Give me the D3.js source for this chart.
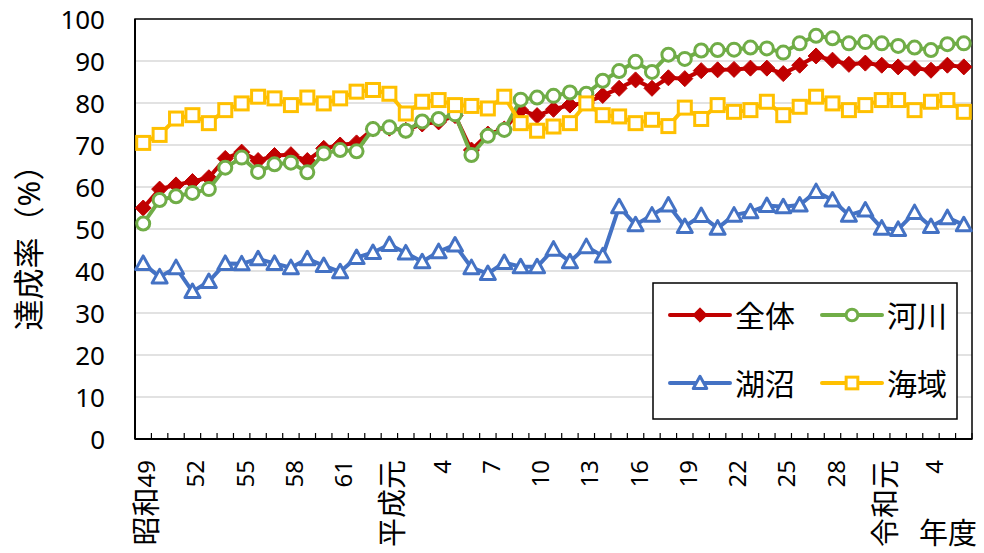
<!DOCTYPE html>
<html><head><meta charset="utf-8">
<script src="https://cdn.jsdelivr.net/npm/d3@7"></script>
<style>body{margin:0;background:#fff}svg{display:block}</style>
</head><body>
<svg id="c" width="984" height="553"></svg>
<script>
const categories = ["昭和49","50","51","52","53","54","55","56","57","58","59","60","61","62","63",
  "平成元","2","3","4","5","6","7","8","9","10","11","12","13","14","15","16","17","18","19","20",
  "21","22","23","24","25","26","27","28","29","30","令和元","2","3","4","5","6"];
const zentai = [55.0,59.5,60.5,61.3,62.2,66.8,68.3,66.3,67.5,67.7,66.3,69.2,70.0,70.5,73.8,
  74.0,73.5,75.0,75.5,77.0,68.8,72.6,73.8,78.3,77.0,78.5,79.5,80.0,81.8,83.5,85.5,83.5,86.0,85.8,
  87.7,87.9,88.0,88.3,88.3,87.0,89.0,91.2,90.2,89.2,89.5,89.0,88.6,88.3,87.8,89.0,88.6];
const kasen = [51.3,56.9,57.8,58.6,59.5,64.6,67.0,63.6,65.4,65.8,63.5,68.0,68.8,68.5,73.8,
  74.2,73.4,75.6,76.2,77.3,67.6,72.2,73.6,80.8,81.3,81.7,82.5,82.2,85.3,87.6,89.8,87.4,91.5,90.5,
  92.5,92.6,92.7,93.2,93.0,92.0,94.2,96.0,95.4,94.2,94.5,94.2,93.6,93.2,92.6,94.0,94.2];
const koshou = [41.8,38.6,40.8,35.1,37.5,41.8,41.7,42.9,41.8,40.8,42.9,41.3,39.8,43.2,44.4,
  46.3,44.3,42.2,44.6,46.2,40.8,39.4,42.0,41.0,41.0,45.2,42.2,45.8,43.6,55.3,51.0,53.3,55.7,50.6,
  53.2,50.2,53.3,54.1,55.6,55.3,55.7,58.9,56.9,53.3,54.5,50.2,49.9,53.9,50.6,52.7,51.0];
const kaiiki = [70.5,72.4,76.3,77.1,75.2,78.3,79.9,81.5,81.1,79.5,81.3,79.9,81.1,82.7,83.1,
  82.2,77.5,80.3,80.7,79.5,79.3,78.7,81.5,75.2,73.4,74.4,75.2,79.9,77.1,76.8,75.2,76.0,74.5,78.9,
  76.2,79.5,77.9,78.3,80.3,77.1,79.1,81.5,79.9,78.3,79.5,80.7,80.7,78.3,80.3,80.7,77.9];
const seriesNames = ["全体","河川","湖沼","海域"];
const seriesColors = ["#C00000","#70AD47","#4472C4","#FFC000"];
const seriesMarkers = ["diamond","circle","triangle","square"];
const yTicks = [0,10,20,30,40,50,60,70,80,90,100];
const yTitle = "達成率（%）";
const xTitle = "年度";

const seriesData = [zentai, kasen, koshou, kaiiki];
const svg = d3.select("#c");
const L=135,R=972,T=19,B=439;
const idx = d3.range(categories.length);
const x = d3.scaleBand().domain(idx).range([L,R]).paddingInner(0).paddingOuter(0);
const y = d3.scaleLinear().domain([0,100]).range([B,T]);
const cx = i => x(i) + x.bandwidth()/2;
const font = "'Noto Sans','Noto Sans CJK JP',sans-serif";

// gridlines
svg.append("g").selectAll("line").data(yTicks.filter(v=>v>0&&v<100)).join("line")
  .attr("x1",L).attr("x2",R).attr("y1",d=>y(d)).attr("y2",d=>y(d))
  .attr("stroke","#d9d9d9").attr("stroke-width",1.5);

// plot border
svg.append("rect").attr("x",L).attr("y",T).attr("width",R-L).attr("height",B-T)
  .attr("fill","none").attr("stroke","#000").attr("stroke-width",1.5);
svg.append("line").attr("x1",L).attr("x2",L).attr("y1",T).attr("y2",B).attr("stroke","#000").attr("stroke-width",2);
svg.append("line").attr("x1",L).attr("x2",R).attr("y1",B).attr("y2",B).attr("stroke","#000").attr("stroke-width",2);

// x ticks at category boundaries (pointing up)
const bounds = idx.map(i=>x(i)).concat([R]);
svg.append("g").selectAll("line").data(bounds).join("line")
  .attr("x1",d=>d).attr("x2",d=>d).attr("y1",B).attr("y2",B-6)
  .attr("stroke","#000").attr("stroke-width",1.2);

// y labels
svg.append("g").selectAll("text").data(yTicks).join("text")
  .attr("x",105).attr("y",d=>y(d)).attr("text-anchor","end").attr("dominant-baseline","central")
  .attr("font-family",font).attr("font-size",26).attr("fill","#000").text(d=>d);

// x labels every 3rd category (era characters larger than digits, as in the original font)
const xl = svg.append("g").selectAll("text").data(idx.filter(i=>i%3===0)).join("text")
  .attr("transform",i=>`translate(${cx(i)+2},460) rotate(-90)`)
  .attr("text-anchor","end").attr("dominant-baseline","central")
  .attr("font-family",font).attr("font-size",24).attr("fill","#000");
xl.each(function(i){
  const lab = categories[i];
  const m = lab.match(/^([^0-9]*)([0-9]*)$/);
  const t = d3.select(this);
  if(m[1]) t.append("tspan").attr("font-size",29).text(m[1]);
  if(m[2]) t.append("tspan").attr("font-size",24).text(m[2]);
});

// axis titles
svg.append("text").attr("transform","translate(28,240) rotate(-90)")
  .attr("text-anchor","middle").attr("dominant-baseline","central")
  .attr("font-family",font).attr("font-size",31).attr("fill","#000").text(yTitle);
svg.append("text").attr("x",919).attr("y",532).attr("text-anchor","start").attr("dominant-baseline","central")
  .attr("font-family",font).attr("font-size",29).attr("fill","#000").text(xTitle);

function marker(g, type, color, s){
  s = s || 1;
  if(type==="diamond"){
    g.append("path").attr("d",`M0,${-8*s}L${8*s},0L0,${8*s}L${-8*s},0Z`).attr("fill",color).attr("stroke",color).attr("stroke-width",1);
  } else if(type==="circle"){
    g.append("circle").attr("r",6.5*s).attr("fill","#fff").attr("stroke",color).attr("stroke-width",3);
  } else if(type==="triangle"){
    g.append("path").attr("d",`M0,${-7.5*s}L${7.5*s},${6*s}L${-7.5*s},${6*s}Z`).attr("fill","#fff").attr("stroke",color).attr("stroke-width",3).attr("stroke-linejoin","round");
  } else {
    g.append("rect").attr("x",-6.5*s).attr("y",-6.5*s).attr("width",13*s).attr("height",13*s).attr("fill","#fff").attr("stroke",color).attr("stroke-width",3);
  }
}

const line = d3.line().x((d,i)=>cx(i)).y(d=>y(d));
seriesData.forEach((vals,k)=>{
  const g = svg.append("g");
  g.append("path").attr("d",line(vals)).attr("fill","none").attr("stroke",seriesColors[k])
    .attr("stroke-width",4).attr("stroke-linejoin","round");
  vals.forEach((v,i)=>{
    const m = g.append("g").attr("transform",`translate(${cx(i)},${y(v)})`);
    marker(m, seriesMarkers[k], seriesColors[k]);
  });
});

// legend
const lg = svg.append("g");
lg.append("rect").attr("x",653).attr("y",283).attr("width",304).attr("height",136)
  .attr("fill","#fff").attr("stroke","#000").attr("stroke-width",1.5);
const legPos = [[670,315],[822,315],[670,383],[822,383]];
seriesNames.forEach((n,k)=>{
  const [lx,ly] = legPos[k];
  lg.append("line").attr("x1",lx).attr("x2",lx+60).attr("y1",ly).attr("y2",ly)
    .attr("stroke",seriesColors[k]).attr("stroke-width",4).attr("stroke-linecap","round");
  const m = lg.append("g").attr("transform",`translate(${lx+30},${ly})`);
  marker(m, seriesMarkers[k], seriesColors[k], 0.9);
  lg.append("text").attr("x",lx+65).attr("y",ly).attr("dominant-baseline","central")
    .attr("font-family",font).attr("font-size",30).attr("fill","#000").text(n);
});
</script>
</body></html>
